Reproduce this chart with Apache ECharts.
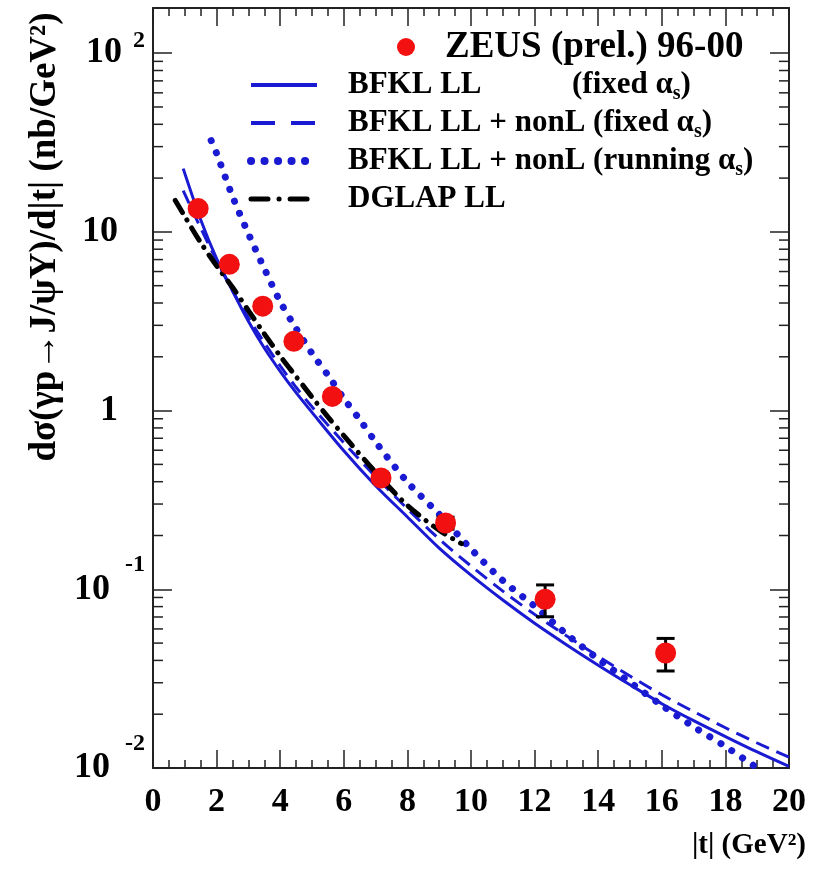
<!DOCTYPE html>
<html>
<head>
<meta charset="utf-8">
<script src="https://cdn.jsdelivr.net/npm/echarts@6/dist/echarts.min.js"></script>
<style>
html,body{margin:0;padding:0;background:#fff;}
#chart{width:824px;height:875px;}
</style>
</head>
<body>
<div id="chart"></div>
<script>
// ---- data ----
const xTicks = [0, 2, 4, 6, 8, 10, 12, 14, 16, 18, 20];
const yTickExponents = [-2, -1, 0, 1, 2];

// ZEUS (prel.) 96-00 data points
const tData = [1.42, 2.40, 3.45, 4.43, 5.64, 7.17, 9.20, 12.33, 16.12];
const vData = [13.5, 6.58, 3.84, 2.44, 1.20, 0.42, 0.235, 0.088, 0.044];
const eData = [0.6, 0.35, 0.2, 0.13, 0.06, 0.025, 0.018, 0.0178, 0.0091];

// BFKL LL (fixed alpha_s)
const tLL = [0.95, 1.5, 2, 2.5, 3, 3.5, 4, 4.5, 5, 6, 7, 8, 9, 10, 11, 12, 13, 14, 15, 16, 17, 18, 19, 20];
const vLL = [22.6, 11.7, 7.08, 4.68, 3.16, 2.24, 1.66, 1.26, 0.977, 0.596, 0.380, 0.254, 0.170, 0.120, 0.0871, 0.0646, 0.0490, 0.0376, 0.0292, 0.0229, 0.0184, 0.0150, 0.0123, 0.0102];

// BFKL LL + nonL (fixed alpha_s)
const tNL = [0.95, 1.5, 2, 2.5, 3, 3.5, 4, 4.5, 5, 6, 7, 8, 9, 10, 11, 12, 13, 14, 15, 16, 17, 18, 19, 20];
const vNL = [17.0, 10.5, 6.92, 4.68, 3.31, 2.40, 1.78, 1.35, 1.05, 0.661, 0.427, 0.282, 0.191, 0.135, 0.0977, 0.0724, 0.0550, 0.0422, 0.0327, 0.0257, 0.0207, 0.0168, 0.0138, 0.0115];

// BFKL LL + nonL (running alpha_s)
const tRun = [1.83, 2, 2.5, 3, 3.5, 4, 4.5, 5, 5.5, 6, 6.5, 7, 8, 9, 10, 11, 12, 13, 14, 15, 16, 17, 18, 19];
const vRun = [32.4, 27.5, 15.8, 9.77, 6.24, 4.07, 2.88, 2.09, 1.58, 1.17, 0.891, 0.668, 0.398, 0.263, 0.168, 0.112, 0.0804, 0.0562, 0.0407, 0.0302, 0.0224, 0.0170, 0.0132, 0.0100];

// DGLAP LL
const tDG = [0.7, 1, 1.5, 2, 2.5, 3, 3.5, 4, 4.5, 5, 5.5, 6, 7, 8, 9, 9.7];
const vDG = [15.0, 12.2, 8.71, 6.46, 4.90, 3.63, 2.69, 2.02, 1.55, 1.19, 0.923, 0.724, 0.452, 0.295, 0.214, 0.180];

const names = {
  data: 'ZEUS (prel.) 96-00',
  ll: 'BFKL LL (fixed αs)',
  nl: 'BFKL LL + nonL (fixed αs)',
  run: 'BFKL LL + nonL (running αs)',
  dg: 'DGLAP LL'
};

// ---- build ----
const FONT = '"Liberation Serif", "Times New Roman", serif';
const BLUE = '#1a1ad2';
const zip = (a, b) => a.map((x, i) => [x, b[i]]);

const minorVals = [];
for (let e = -2; e <= 2; e++) {
  for (let m = 2; m <= 9; m++) {
    const v = m * Math.pow(10, e);
    if (v < 179) minorVals.push(v);
  }
}

function yLabel(v) {
  const e = Math.round(Math.log10(v));
  if (e === 2) return '{bp|10}{sp|2}';
  if (e === 1) return '{b|10}';
  if (e === 0) return '{b|1}';
  return '{bn|10}{sn|' + e + '}';
}

const chart = echarts.init(document.getElementById('chart'), null, {renderer: 'canvas'});

const axisLineStyle = {color: '#222', width: 2};
const hideSym = {opacity: 0};

const option = {
  backgroundColor: '#fff',
  animation: false,
  grid: {left: 153, right: 35, top: 8, bottom: 107, containLabel: false, outerBoundsMode: 'none'},
  xAxis: [
    {
      type: 'value', min: 0, max: 20, interval: 2, position: 'bottom',
      axisLine: {show: true, onZero: false, lineStyle: axisLineStyle},
      axisTick: {show: true, inside: true, length: 18, lineStyle: {color: '#222', width: 1.5}},
      minorTick: {show: true, splitNumber: 4, length: 8, lineStyle: {color: '#222', width: 1.5}},
      splitLine: {show: false},
      axisLabel: {show: true, margin: 17, color: '#000', fontFamily: FONT, fontWeight: 'bold', fontSize: 34,
        formatter: v => (xTicks.indexOf(v) >= 0 ? String(v) : '')}
    },
    {
      type: 'value', min: 0, max: 20, interval: 2, position: 'top',
      axisLine: {show: true, onZero: false, lineStyle: axisLineStyle},
      axisTick: {show: true, inside: true, length: 18, lineStyle: {color: '#222', width: 1.5}},
      minorTick: {show: true, splitNumber: 4, length: 8, lineStyle: {color: '#222', width: 1.5}},
      splitLine: {show: false},
      axisLabel: {show: false}
    }
  ],
  yAxis: [
    {
      type: 'log', min: 0.01, max: 179, logBase: 10, position: 'left',
      axisLine: {show: true, onZero: false, lineStyle: axisLineStyle},
      axisTick: {show: true, inside: true, length: 19, lineStyle: {color: '#222', width: 1.5}},
      splitLine: {show: false},
      axisLabel: {
        show: true, margin: 8, showMaxLabel: false, color: '#000',
        formatter: yLabel,
        rich: {
          b:  {fontFamily: FONT, fontWeight: 'bold', fontSize: 36, lineHeight: 40, padding: [0, 27, 0, 0], color: '#000'},
          bp: {fontFamily: FONT, fontWeight: 'bold', fontSize: 36, lineHeight: 48, color: '#000'},
          sp: {fontFamily: FONT, fontWeight: 'bold', fontSize: 24, lineHeight: 24, verticalAlign: 'top', padding: [0, 0, 0, 11], color: '#000'},
          bn: {fontFamily: FONT, fontWeight: 'bold', fontSize: 36, lineHeight: 72, color: '#000'},
          sn: {fontFamily: FONT, fontWeight: 'bold', fontSize: 24, lineHeight: 24, verticalAlign: 'top', padding: [0, 0, 0, 15], color: '#000'}
        }
      }
    },
    {
      type: 'log', min: 0.01, max: 179, logBase: 10, position: 'right',
      axisLine: {show: true, onZero: false, lineStyle: axisLineStyle},
      axisTick: {show: true, inside: true, length: 19, lineStyle: {color: '#222', width: 1.5}},
      splitLine: {show: false},
      axisLabel: {show: false}
    }
  ],
  legend: [
    {
      data: [{name: names.data, icon: 'circle'}],
      left: 397, top: 27, padding: 0, itemWidth: 18, itemHeight: 18, itemGap: 0,
      selectedMode: false,
      itemStyle: {color: '#f21010', opacity: 1},
      textStyle: {fontFamily: FONT, fontWeight: 'bold', fontSize: 37, lineHeight: 40, color: '#000', padding: [0, 0, 0, 25]}
    },
    {
      data: [
        {name: names.ll, itemStyle: hideSym, lineStyle: {width: 4, type: 'solid'}},
        {name: names.nl, itemStyle: hideSym, lineStyle: {width: 4, type: [24, 16]}},
        {name: names.run, itemStyle: hideSym, lineStyle: {width: 8, type: [0.1, 13.4], cap: 'round'}},
        {name: names.dg, itemStyle: hideSym, lineStyle: {width: 5, type: [17, 11, 0.1, 11], cap: 'round'}}
      ],
      orient: 'vertical',
      left: 247, top: 66, padding: 0, itemWidth: 66, itemHeight: 20, itemGap: 0,
      selectedMode: false,
      formatter: function (n) {
        if (n === names.ll) return '{w|BFKL LL}{a|(fixed α}{s|s}{a|)}';
        if (n === names.nl) return '{a|BFKL LL + nonL (fixed α}{s|s}{a|)}';
        if (n === names.run) return '{a|BFKL LL + nonL (running α}{s|s}{a|)}';
        return '{a|DGLAP LL}';
      },
      textStyle: {
        fontFamily: FONT, fontWeight: 'bold', fontSize: 31, lineHeight: 38, color: '#000', padding: [0, 0, 0, 26],
        rich: {
          a: {fontFamily: FONT, fontWeight: 'bold', fontSize: 31, lineHeight: 38, color: '#000'},
          w: {fontFamily: FONT, fontWeight: 'bold', fontSize: 31, lineHeight: 38, color: '#000', width: 224},
          s: {fontFamily: FONT, fontWeight: 'bold', fontSize: 20, lineHeight: 14, verticalAlign: 'bottom', color: '#000'}
        }
      }
    }
  ],
  graphic: [
    {
      type: 'text', x: 45, y: 237, rotation: Math.PI / 2,
      style: {text: 'dσ(γp→J/ψY)/d|t| (nb/GeV²)', font: 'bold 37px ' + FONT, fill: '#000', align: 'center', verticalAlign: 'middle'}
    },
    {
      type: 'text', x: 806, y: 846,
      style: {text: '|t| (GeV²)', font: 'bold 29px ' + FONT, fill: '#000', align: 'right', verticalAlign: 'middle'}
    }
  ],
  series: [
    {
      type: 'custom', name: 'minorTicks', silent: true, xAxisIndex: 0, yAxisIndex: 0,
      data: minorVals.map(v => [0, v]), encode: {x: 0, y: 1}, clip: false, z: 1,
      renderItem: function (params, api) {
        const v = api.value(1);
        const p = api.coord([0, v]);
        const q = api.coord([20, v]);
        const st = {stroke: '#222', lineWidth: 1.5};
        return {type: 'group', children: [
          {type: 'line', shape: {x1: p[0], y1: p[1], x2: p[0] + 10, y2: p[1]}, style: st},
          {type: 'line', shape: {x1: q[0] - 10, y1: q[1], x2: q[0], y2: q[1]}, style: st}
        ]};
      }
    },
    {
      name: names.ll, type: 'line', data: zip(tLL, vLL), showSymbol: false, symbol: 'none', smooth: 0.3,
      lineStyle: {color: BLUE, width: 3, type: 'solid'}, itemStyle: {color: BLUE}, z: 3
    },
    {
      name: names.nl, type: 'line', data: zip(tNL, vNL), showSymbol: false, symbol: 'none', smooth: 0.3,
      lineStyle: {color: BLUE, width: 3, type: [14, 8]}, itemStyle: {color: BLUE}, z: 3
    },
    {
      name: names.run, type: 'line', data: zip(tRun, vRun), showSymbol: false, symbol: 'none', smooth: 0.3,
      lineStyle: {color: BLUE, width: 7, type: [0.1, 12.9], cap: 'round'}, itemStyle: {color: BLUE}, z: 3
    },
    {
      name: names.dg, type: 'line', data: zip(tDG, vDG), showSymbol: false, symbol: 'none', smooth: 0.3,
      lineStyle: {color: '#000', width: 5, type: [14, 9, 0.1, 9], cap: 'round'}, itemStyle: {color: '#000'}, z: 3
    },
    {
      type: 'custom', name: 'errors', silent: true, xAxisIndex: 0, yAxisIndex: 0,
      data: tData.map((t, i) => [t, vData[i], vData[i] - eData[i], vData[i] + eData[i]]),
      encode: {x: 0, y: 1}, z: 4,
      renderItem: function (params, api) {
        const t = api.value(0);
        const lo = api.coord([t, api.value(2)]);
        const hi = api.coord([t, api.value(3)]);
        const st = {stroke: '#000', lineWidth: 3};
        const c = 9;
        return {type: 'group', children: [
          {type: 'line', shape: {x1: lo[0], y1: lo[1], x2: hi[0], y2: hi[1]}, style: st},
          {type: 'line', shape: {x1: lo[0] - c, y1: lo[1], x2: lo[0] + c, y2: lo[1]}, style: st},
          {type: 'line', shape: {x1: hi[0] - c, y1: hi[1], x2: hi[0] + c, y2: hi[1]}, style: st}
        ]};
      }
    },
    {
      name: names.data, type: 'scatter', data: zip(tData, vData), symbol: 'circle', symbolSize: 21,
      itemStyle: {color: '#f21010', opacity: 1}, z: 5
    }
  ]
};

chart.setOption(option);
</script>
</body>
</html>
